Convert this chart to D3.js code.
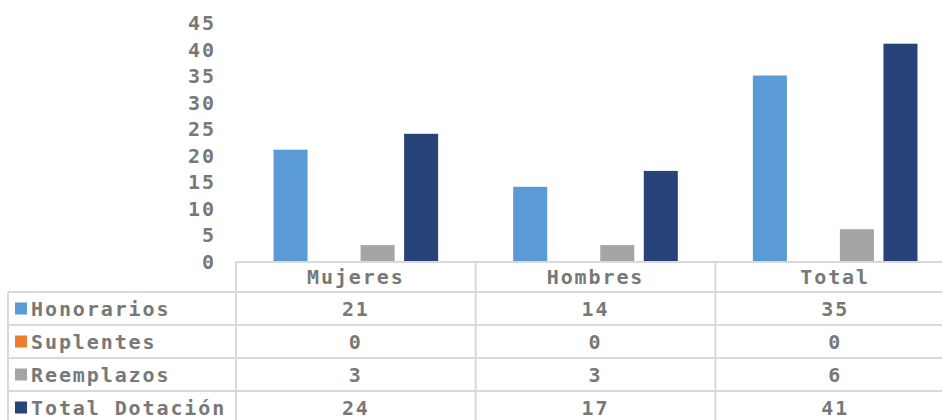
<!DOCTYPE html>
<meta charset="utf-8">
<style>
body { margin: 0; background: #fff; }
text {
  font-family: "DejaVu Sans Mono", monospace;
  font-weight: bold;
  font-size: 20px;
  fill: #787878;
  letter-spacing: 1.9px;
}
</style>
<body>
<script src="https://cdn.jsdelivr.net/npm/d3@7"></script>
<script>
// data
var categories = ["Mujeres", "Hombres", "Total"];
var series = ["Honorarios", "Suplentes", "Reemplazos", "Total Dotación"];
var honorarios = [21, 14, 35];
var suplentes = [0, 0, 0];
var reemplazos = [3, 3, 6];
var totalDotacion = [24, 17, 41];
var yTicks = [0, 5, 10, 15, 20, 25, 30, 35, 40, 45];
var colors = ["#5b9bd5", "#ed7d31", "#a5a5a5", "#264478"];

var values = [honorarios, suplentes, reemplazos, totalDotacion];

var W = 942, H = 420;
var svg = d3.select("body").append("svg").attr("width", W).attr("height", H);

// scales
var x0 = d3.scaleBand().domain(categories).range([236, 955]).paddingInner(0).paddingOuter(0);
var x1 = d3.scaleBand().domain(series).range([0, x0.bandwidth()]).paddingInner(0.218).paddingOuter(0.862);
var y = d3.scaleLinear().domain([0, 45]).range([261, 22.5]);

// y axis labels only
var yAxis = d3.axisLeft(y).tickValues(yTicks).tickSize(0).tickPadding(0);
var gy = svg.append("g").attr("transform", "translate(216,0)").call(yAxis);
gy.select(".domain").remove();
gy.selectAll("text").attr("dy", "0.36em").attr("fill", null);
gy.attr("font-family", null).attr("font-size", null);

// bars
var bars = [];
series.forEach(function (s, si) {
  categories.forEach(function (c, ci) {
    bars.push({ s: s, c: c, v: values[si][ci], color: colors[si] });
  });
});
svg.append("g").selectAll("rect").data(bars).enter().append("rect")
  .attr("x", function (d) { return x0(d.c) + x1(d.s); })
  .attr("width", x1.bandwidth())
  .attr("y", function (d) { return y(d.v); })
  .attr("height", function (d) { return y(0) - y(d.v); })
  .attr("fill", function (d) { return d.color; });

// data table
var grid = "#d9d9d9";
var tableTop = 262, headH = 30, rowH = 33, tableLeft = 8;
var g = svg.append("g");
var right = x0.range()[1];

// horizontal lines
g.append("line").attr("x1", x0.range()[0]).attr("x2", right).attr("y1", tableTop).attr("y2", tableTop);
for (var i = 0; i <= series.length; i++) {
  var yy = tableTop + headH + i * rowH;
  g.append("line").attr("x1", tableLeft).attr("x2", right).attr("y1", yy).attr("y2", yy);
}
// vertical lines
g.append("line").attr("x1", tableLeft).attr("x2", tableLeft).attr("y1", tableTop + headH).attr("y2", H + 10);
categories.forEach(function (c) {
  g.append("line").attr("x1", x0(c)).attr("x2", x0(c)).attr("y1", tableTop).attr("y2", H + 10);
});
g.selectAll("line").attr("stroke", grid).attr("stroke-width", 2);

// header
svg.append("g").selectAll("text").data(categories).enter().append("text")
  .attr("x", function (d) { return x0(d) + x0.bandwidth() / 2; })
  .attr("y", tableTop + headH / 2)
  .attr("dy", "0.36em")
  .attr("text-anchor", "middle")
  .text(function (d) { return d; });

// rows
series.forEach(function (s, si) {
  var cy = tableTop + headH + si * rowH + rowH / 2;
  svg.append("rect").attr("x", 15).attr("y", cy - 6).attr("width", 12).attr("height", 12).attr("fill", colors[si]);
  svg.append("text").attr("x", 31).attr("y", cy).attr("dy", "0.36em").text(s);
  categories.forEach(function (c, ci) {
    svg.append("text")
      .attr("x", x0(c) + x0.bandwidth() / 2)
      .attr("y", cy).attr("dy", "0.36em")
      .attr("text-anchor", "middle")
      .text(values[si][ci]);
  });
});
</script>
</body>
